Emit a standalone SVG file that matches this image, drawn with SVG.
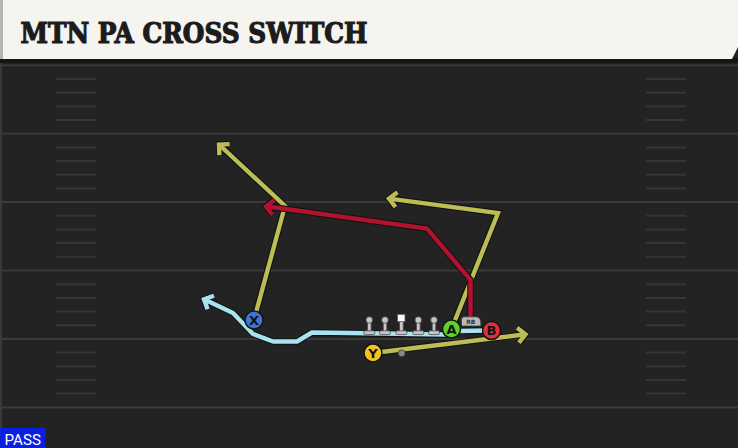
<svg xmlns="http://www.w3.org/2000/svg" width="738" height="448" viewBox="0 0 738 448">
<style>
.yard{stroke:#3a3a3a;stroke-width:2}
.hash{stroke:#353535;stroke-width:2}
.ol{stroke:#111;stroke-width:6.5;fill:none;stroke-linejoin:miter}
.ry{stroke:#bdbd55;stroke-width:4.4;fill:none;stroke-linejoin:miter}
.rr{stroke:#b0122f;stroke-width:4.4;fill:none;stroke-linejoin:miter}
.rb{stroke:#a8e4f0;stroke-width:4.4;fill:none;stroke-linejoin:round}
.ring{stroke:#151515;stroke-width:1.5}
.lbl{font-family:"DejaVu Sans",sans-serif;font-weight:bold;font-size:13px;fill:#111;text-anchor:middle}
.lin{fill:#c6c6c6;stroke:#4a4a4a;stroke-width:0.8}
</style>
<defs>
<marker id="ak" markerUnits="userSpaceOnUse" viewBox="-14 -14 28 28" markerWidth="28" markerHeight="28" refX="0" refY="0" orient="auto" overflow="visible">
<path d="M-7.5,-7.5 L0,0 L-7.5,7.5" fill="none" stroke="#111" stroke-width="6.5"/>
</marker>
<marker id="ay" markerUnits="userSpaceOnUse" viewBox="-14 -14 28 28" markerWidth="28" markerHeight="28" refX="0" refY="0" orient="auto" overflow="visible">
<path d="M-7.5,-7.5 L0,0 L-7.5,7.5" fill="none" stroke="#bdbd55" stroke-width="4.4"/>
</marker>
<marker id="ar" markerUnits="userSpaceOnUse" viewBox="-14 -14 28 28" markerWidth="28" markerHeight="28" refX="0" refY="0" orient="auto" overflow="visible">
<path d="M-7.5,-7.5 L0,0 L-7.5,7.5" fill="none" stroke="#b0122f" stroke-width="4.4"/>
</marker>
<marker id="ab" markerUnits="userSpaceOnUse" viewBox="-14 -14 28 28" markerWidth="28" markerHeight="28" refX="0" refY="0" orient="auto" overflow="visible">
<path d="M-7.5,-7.5 L0,0 L-7.5,7.5" fill="none" stroke="#a8e4f0" stroke-width="4.4"/>
</marker>
</defs>
<rect x="0" y="0" width="738" height="448" fill="#232323"/>
<rect x="0" y="60" width="2" height="388" fill="#3a3a3a"/>
<g id="field">
<line class="yard" x1="0" y1="65.3" x2="738" y2="65.3"/>
<line class="yard" x1="0" y1="133.7" x2="738" y2="133.7"/>
<line class="yard" x1="0" y1="202.1" x2="738" y2="202.1"/>
<line class="yard" x1="0" y1="270.5" x2="738" y2="270.5"/>
<line class="yard" x1="0" y1="338.9" x2="738" y2="338.9"/>
<line class="yard" x1="0" y1="407.5" x2="738" y2="407.5"/>
<path class="hash" d="M56 79H96M56 92.7H96M56 106.3H96M56 120H96M56 147.4H96M56 161.1H96M56 174.7H96M56 188.4H96M56 215.8H96M56 229.5H96M56 243.1H96M56 256.8H96M56 284.2H96M56 297.9H96M56 311.5H96M56 325.2H96M56 352.6H96M56 366.3H96M56 379.9H96M56 393.6H96"/>
<path class="hash" d="M646 79H686M646 92.7H686M646 106.3H686M646 120H686M646 147.4H686M646 161.1H686M646 174.7H686M646 188.4H686M646 215.8H686M646 229.5H686M646 243.1H686M646 256.8H686M646 284.2H686M646 297.9H686M646 311.5H686M646 325.2H686M646 352.6H686M646 366.3H686M646 379.9H686M646 393.6H686"/>
</g>
<g id="title">
<rect x="0" y="58" width="738" height="5" fill="#151515"/>
<path d="M3 0H738V47L732 59H3Z" fill="#f6f4ee"/>
<rect x="0" y="0" width="3" height="59" fill="#b4b4b4"/>
<text x="20.5" y="42.5" font-family="'DejaVu Serif Condensed','DejaVu Serif',serif" font-weight="bold" font-size="28" fill="#1c1c1c" stroke="#1c1c1c" stroke-width="1.1" textLength="347" lengthAdjust="spacingAndGlyphs">MTN PA CROSS SWITCH</text>
</g>
<g id="connectors">
<path class="ol" d="M254 320L285 206L219 144.5" marker-end="url(#ak)"/>
<path class="ry" d="M254 320L285 206L219 144.5" marker-end="url(#ay)"/>
<path class="ol" d="M451.5 329L498 213L389 198.6" marker-end="url(#ak)"/>
<path class="ry" d="M451.5 329L498 213L389 198.6" marker-end="url(#ay)"/>
<path class="ol" d="M487 330.5L458 331L446 334.5L350 333L312 332.5L297 341.5L273 341.5L253 334L233 313L204 299.3" marker-end="url(#ak)"/>
<path class="rb" d="M487 330.5L458 331L446 334.5L350 333L312 332.5L297 341.5L273 341.5L253 334L233 313L204 299.3" marker-end="url(#ab)"/>
<path class="ol" d="M470.5 318L470.5 280L427 228.5L266 206.3" marker-end="url(#ak)"/>
<path class="rr" d="M470.5 318L470.5 280L427 228.5L266 206.3" marker-end="url(#ar)"/>
<path class="ol" d="M373 353L525.5 334.3" marker-end="url(#ak)"/>
<path class="ry" d="M373 353L525.5 334.3" marker-end="url(#ay)"/>
</g>
<g id="OL">
<g id="lt"><rect class="lin" x="367.5" y="321" width="3.6" height="11"/><circle class="lin" cx="369.3" cy="320" r="3.3"/><rect class="lin" x="363.8" y="330.8" width="11" height="3.8" rx="1.5"/></g>
<g id="lg"><rect class="lin" x="383.2" y="321" width="3.6" height="11"/><circle class="lin" cx="385" cy="320" r="3.3"/><rect class="lin" x="379.5" y="330.8" width="11" height="3.8" rx="1.5"/></g>
<g id="c"><rect class="lin" x="399.6" y="321" width="3.6" height="11"/><rect x="397.6" y="314.3" width="7.4" height="7.4" fill="#fafafa" stroke="#555" stroke-width="0.8"/><rect class="lin" x="395.9" y="330.8" width="11" height="3.8" rx="1.5"/></g>
<g id="rg"><rect class="lin" x="416.5" y="321" width="3.6" height="11"/><circle class="lin" cx="418.3" cy="320" r="3.3"/><rect class="lin" x="412.8" y="330.8" width="11" height="3.8" rx="1.5"/></g>
<g id="rt"><rect class="lin" x="432.2" y="321" width="3.6" height="11"/><circle class="lin" cx="434" cy="320" r="3.3"/><rect class="lin" x="428.5" y="330.8" width="11" height="3.8" rx="1.5"/></g>
</g>
<g id="RB">
<path d="M461.5 326V319.5Q461.5 316.8 464.2 316.8H475Q480.5 316.8 480.8 322V326Z" fill="#b9b9b9" stroke="#3a3a3a" stroke-width="0.8"/>
<text x="470.8" y="324" font-family="'DejaVu Sans',sans-serif" font-weight="bold" font-size="6" fill="#333" text-anchor="middle">RB</text>
</g>
<g id="ball"><circle cx="401.7" cy="353.3" r="3.4" fill="#8a8a8a" stroke="#333" stroke-width="0.8"/></g>
<g id="X"><circle class="ring" cx="254" cy="320" r="9" fill="#3d74d9"/><text class="lbl" x="254" y="324.7">X</text></g>
<g id="A"><circle class="ring" cx="451.5" cy="329" r="9" fill="#5fd12e"/><text class="lbl" x="451.5" y="333.7">A</text></g>
<g id="B"><circle class="ring" cx="491.5" cy="330.5" r="9" fill="#e0313a"/><text class="lbl" x="491.5" y="335.2">B</text></g>
<g id="Y"><circle class="ring" cx="373" cy="353" r="9" fill="#f2c224"/><text class="lbl" x="373" y="357.7">Y</text></g>
<g id="pass">
<rect x="0" y="428" width="45.5" height="20" fill="#0b1fe0"/>
<text x="4.5" y="444.5" font-family="Roboto,'DejaVu Sans',sans-serif" font-size="15" fill="#ffffff" textLength="36.5" lengthAdjust="spacingAndGlyphs">PASS</text>
</g>
</svg>
